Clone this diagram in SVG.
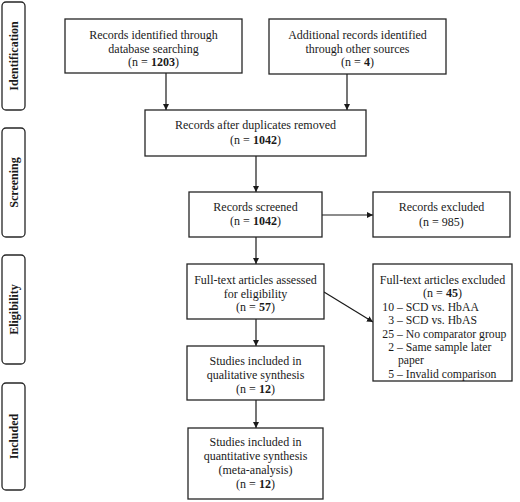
<svg xmlns="http://www.w3.org/2000/svg" width="520" height="502" viewBox="0 0 520 502">
<defs>
<style>
.box{fill:#fff;stroke:#262626;stroke-width:1.3}
.stage{fill:#fff;stroke:#262626;stroke-width:1.3}
.t{font-family:"Liberation Serif","Times New Roman",serif;font-size:12px;fill:#1a1a1a;text-anchor:middle}
.l{font-family:"Liberation Serif","Times New Roman",serif;font-size:11.7px;fill:#1a1a1a}
.s{font-family:"Liberation Serif","Times New Roman",serif;font-size:12px;font-weight:bold;fill:#1a1a1a;text-anchor:middle}
.c{fill:none;stroke:#1a1a1a;stroke-width:1.2}
</style>
<marker id="ah" viewBox="0 0 10 10" refX="10" refY="5" markerWidth="6" markerHeight="6" orient="auto" markerUnits="userSpaceOnUse">
<path d="M0,0 L10,5 L0,10 z" fill="#1a1a1a"/>
</marker>
</defs>
<rect width="520" height="502" fill="#fff"/>

<g id="stage-identification">
<rect class="stage" x="2" y="2" width="23" height="108" rx="4"/>
<text class="s" transform="translate(17.5,56) rotate(-90)">Identification</text>
</g>
<g id="stage-screening">
<rect class="stage" x="2" y="128" width="23" height="109" rx="4"/>
<text class="s" transform="translate(17.5,182.5) rotate(-90)">Screening</text>
</g>
<g id="stage-eligibility">
<rect class="stage" x="2" y="255" width="23" height="109" rx="4"/>
<text class="s" transform="translate(17.5,309.5) rotate(-90)">Eligibility</text>
</g>
<g id="stage-included">
<rect class="stage" x="2" y="383" width="23" height="107" rx="4"/>
<text class="s" transform="translate(17.5,436.5) rotate(-90)">Included</text>
</g>

<g id="connectors">
<line class="c" x1="166" y1="73" x2="166" y2="110" marker-end="url(#ah)"/>
<line class="c" x1="347" y1="74" x2="347" y2="110" marker-end="url(#ah)"/>
<line class="c" x1="256" y1="156" x2="256" y2="192" marker-end="url(#ah)"/>
<line class="c" x1="322" y1="215" x2="373" y2="215" marker-end="url(#ah)"/>
<line class="c" x1="256" y1="237" x2="256" y2="264" marker-end="url(#ah)"/>
<line class="c" x1="324" y1="292" x2="373" y2="322" marker-end="url(#ah)"/>
<line class="c" x1="256" y1="319" x2="256" y2="346" marker-end="url(#ah)"/>
<line class="c" x1="256" y1="400" x2="256" y2="428" marker-end="url(#ah)"/>
</g>

<g id="records-identified-db">
<rect class="box" x="65" y="19" width="177" height="54"/>
<text class="t" x="153.5" y="39">Records identified through</text>
<text class="t" x="153.5" y="52.5">database searching</text>
<text class="t" x="153.5" y="66">(n = <tspan font-weight="bold">1203</tspan>)</text>
</g>
<g id="records-identified-other">
<rect class="box" x="269" y="19" width="177" height="55"/>
<text class="t" x="357.5" y="39">Additional records identified</text>
<text class="t" x="357.5" y="52.5">through other sources</text>
<text class="t" x="357.5" y="66">(n = <tspan font-weight="bold">4</tspan>)</text>
</g>
<g id="records-after-duplicates">
<rect class="box" x="145" y="110" width="221" height="46"/>
<text class="t" x="255.5" y="129">Records after duplicates removed</text>
<text class="t" x="255.5" y="144">(n = <tspan font-weight="bold">1042</tspan>)</text>
</g>
<g id="records-screened">
<rect class="box" x="189" y="192" width="133" height="45"/>
<text class="t" x="255.5" y="211">Records screened</text>
<text class="t" x="255.5" y="225">(n = <tspan font-weight="bold">1042</tspan>)</text>
</g>
<g id="records-excluded">
<rect class="box" x="373" y="192" width="137" height="45"/>
<text class="t" x="441.5" y="211">Records excluded</text>
<text class="t" x="441.5" y="226">(n = 985)</text>
</g>
<g id="fulltext-assessed">
<rect class="box" x="187" y="264" width="137" height="55"/>
<text class="t" x="255.5" y="284">Full-text articles assessed</text>
<text class="t" x="255.5" y="297.5">for eligibility</text>
<text class="t" x="255.5" y="311">(n = <tspan font-weight="bold">57</tspan>)</text>
</g>
<g id="fulltext-excluded">
<rect class="box" x="373" y="264" width="139" height="117"/>
<text class="t" x="442.5" y="284">Full-text articles excluded</text>
<text class="t" x="442.5" y="297.4">(n = <tspan font-weight="bold">45</tspan>)</text>
<text class="l" x="394" y="310.8" text-anchor="end">10</text>
<text class="l" x="397" y="310.8">– SCD vs. HbAA</text>
<text class="l" x="394" y="324.2" text-anchor="end">3</text>
<text class="l" x="397" y="324.2">– SCD vs. HbAS</text>
<text class="l" x="394" y="337.6" text-anchor="end">25</text>
<text class="l" x="397" y="337.6">– No comparator group</text>
<text class="l" x="394" y="351" text-anchor="end">2</text>
<text class="l" x="397" y="351">– Same sample later</text>
<text class="l" x="398" y="364.4">paper</text>
<text class="l" x="394" y="377.8" text-anchor="end">5</text>
<text class="l" x="397" y="377.8">– Invalid comparison</text>
</g>
<g id="studies-qualitative">
<rect class="box" x="187" y="346" width="137" height="54"/>
<text class="t" x="255.5" y="365">Studies included in</text>
<text class="t" x="255.5" y="379">qualitative synthesis</text>
<text class="t" x="255.5" y="392.5">(n = <tspan font-weight="bold">12</tspan>)</text>
</g>
<g id="studies-quantitative">
<rect class="box" x="188" y="428" width="135" height="71"/>
<text class="t" x="255.5" y="446">Studies included in</text>
<text class="t" x="255.5" y="460">quantitative synthesis</text>
<text class="t" x="255.5" y="474">(meta-analysis)</text>
<text class="t" x="255.5" y="488">(n = <tspan font-weight="bold">12</tspan>)</text>
</g>
</svg>
